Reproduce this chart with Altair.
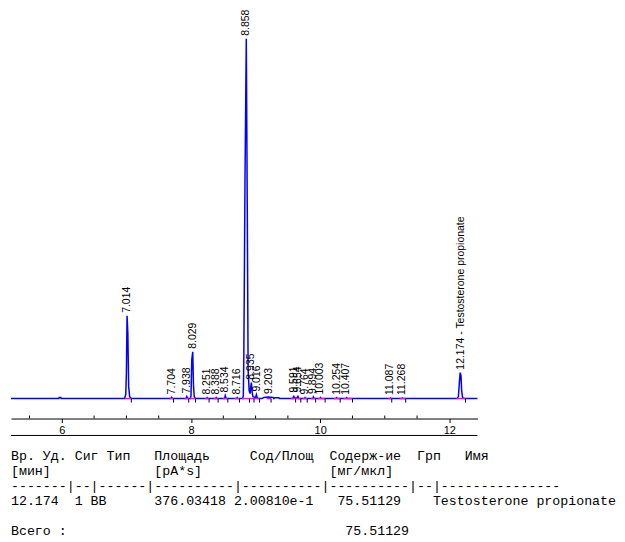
import altair as alt
import pandas as pd

# ---- chromatogram trace (time [min], signal) ----
trace_t = [5.213, 5.955, 5.96, 5.985, 5.99,
           6.97, 6.99, 7.000, 7.010, 7.022, 7.035, 7.05, 7.075,
           7.69, 7.70, 7.715,
           7.925, 7.935, 7.95,
           7.99, 8.000, 8.012, 8.027, 8.038, 8.05, 8.07,
           8.24, 8.25, 8.26,
           8.38, 8.39, 8.40,
           8.52, 8.53, 8.545,
           8.705, 8.715, 8.725,
           8.80, 8.81, 8.818, 8.836, 8.856, 8.872, 8.884, 8.90, 8.915, 8.925, 8.935, 8.947, 8.96,
           9.00, 9.012, 9.025, 9.04,
           9.10, 9.13, 9.20, 9.27, 9.285, 9.30, 9.36, 9.37,
           9.58, 9.59, 9.60, 9.645, 9.655, 9.665,
           9.755, 9.765, 9.775,
           9.885, 9.895, 9.905,
           9.995, 10.005, 10.015,
           10.245, 10.255, 10.265,
           10.40, 10.41, 10.42,
           11.08, 11.09, 11.10,
           11.26, 11.27, 11.28,
           12.12, 12.14, 12.155, 12.167, 12.18, 12.19, 12.205, 12.23, 12.435]
trace_s = [0, 0, 5, 5, 0,
           0, 20, 130, 415, 330, 60, 10, 0,
           0, 6, 0,
           0, 10, 0,
           0, 15, 195, 235, 70, 10, 0,
           0, 5, 0,
           0, 5, 0,
           0, 15, 0,
           0, 5, 0,
           0, 15, 210, 1100, 1805, 900, 150, 40, 25, 60, 80, 30, 10,
           5, 20, 5, 0,
           0, 6, 8, 6, 0, 4, 4, 0,
           0, 15, 3, 3, 15, 0,
           0, 5, 0,
           0, 8, 0,
           0, 5, 0,
           0, 4, 0,
           0, 4, 0,
           0, 3, 0,
           0, 3, 0,
           0, 10, 80, 130, 115, 40, 5, 0, 0]

# ---- integrated peaks ----
peak_rt = [7.014, 7.704, 7.938, 8.029, 8.251, 8.388, 8.534, 8.716, 8.858, 8.935,
           9.016, 9.203, 9.591, 9.654, 9.764, 9.894, 10.003, 10.254, 10.407,
           11.087, 11.268, 12.174]
peak_top = [415, 6, 10, 235, 5, 5, 15, 5, 1805, 80,
            20, 8, 15, 15, 5, 8, 5, 4, 4,
            3, 3, 130]
peak_label = ["7.014", "7.704", "7.938", "8.029", "8.251", "8.388", "8.534", "8.716",
              "8.858", "8.935", "9.016", "9.203", "9.591", "9.654", "9.764", "9.894",
              "10.003", "10.254", "10.407", "11.087", "11.268",
              "12.174 - Testosterone propionate"]
peak_start = [6.975, 7.67, 7.90, 7.985, 8.22, 8.35, 8.50, 8.68, 8.79, 8.905,
              8.975, 9.17, 9.55, 9.62, 9.73, 9.86, 9.96, 10.21, 10.36,
              11.057, 11.231, 12.111]
peak_end = [7.076, 7.73, 7.965, 8.07, 8.28, 8.42, 8.57, 8.75, 8.905, 8.975,
            9.06, 9.24, 9.62, 9.70, 9.80, 9.93, 10.077, 10.31, 10.50,
            11.108, 11.324, 12.25]

major_ticks = [6, 8, 10, 12]
minor_ticks = [5.5, 6.5, 7.0, 7.5, 8.5, 9.0, 9.5, 10.5, 11.0, 11.5]

# ---- report table ----
table_lines = [
    "Вр. Уд. Сиг Тип   Площадь     Сод/Площ  Содерж-ие  Грп   Имя",
    " [мин]" + " " * 13 + "[pA*s]" + " " * 16 + "[мг/мкл]",
    "-------|--|------|----------|----------|----------|--|---------------",
    " 12.174  1 BB      376.03418 2.00810e-1   75.51129    Testosterone propionate",
    "Всего :" + " " * 35 + "75.51129",
]
table_y = [449, 464, 479, 494, 524]

trace = pd.DataFrame({"t": trace_t, "s": trace_s})
peaks = pd.DataFrame({"rt": peak_rt, "top": peak_top, "label": peak_label,
                      "start": peak_start, "end": peak_end})
minor = pd.DataFrame({"t": minor_ticks})

xs = alt.Scale(domain=[5.213, 12.435], nice=False, zero=False)
ys = alt.Scale(domain=[-100, 1955], nice=False, zero=False)

x_axis = alt.Axis(values=major_ticks, format="d", title=None, grid=False,
                  domainColor="#000000", domainWidth=1, tickColor="#000000",
                  tickSize=4, labelPadding=2, labelFont="Liberation Sans",
                  labelFontSize=11, labelColor="#000000")

line = alt.Chart(trace).mark_line(color="#0000ff", strokeWidth=1.5).encode(
    x=alt.X("t:Q", scale=xs, axis=x_axis),
    y=alt.Y("s:Q", scale=ys, axis=None),
)

integ = alt.Chart(peaks).mark_rule(color="#ff00ff", strokeWidth=1.5).encode(
    x="start:Q", x2="end:Q", y=alt.datum(0)
)

end_ticks = alt.Chart(peaks).mark_rule(color="#000000", strokeWidth=1).encode(
    x="end:Q", y=alt.datum(0), y2=alt.datum(-20)
)

labels = alt.Chart(peaks).mark_text(
    angle=270, align="left", baseline="middle", dx=3,
    font="Liberation Sans", fontSize=10.5, color="#000000"
).encode(x="rt:Q", y="top:Q", text="label:N")

minor_rules = alt.Chart(minor).mark_rule(color="#000000", strokeWidth=1).encode(
    x="t:Q", y=alt.value(408), y2=alt.value(411)
)

under_line = alt.Chart(pd.DataFrame({"a": [0]})).mark_rule(
    color="#000000", strokeWidth=1
).encode(x=alt.value(0), x2=alt.value(468), y=alt.value(428))

text_layers = []
for txt, yy in zip(table_lines, table_y):
    df = pd.DataFrame({"txt": [txt.replace(" ", "\u00a0")]})
    text_layers.append(
        alt.Chart(df).mark_text(align="left", baseline="middle",
                                font="Liberation Mono", fontSize=13.33,
                                color="#000000").encode(
            x=alt.value(0), y=alt.value(yy), text="txt:N")
    )

chart = alt.layer(line, integ, end_ticks, labels, minor_rules, under_line,
                  *text_layers).properties(
    width=468, height=411,
    padding=0,
    background="white",
).configure_view(stroke=None)

chart.save("out.html", embed_options={"renderer": "svg", "actions": False})
